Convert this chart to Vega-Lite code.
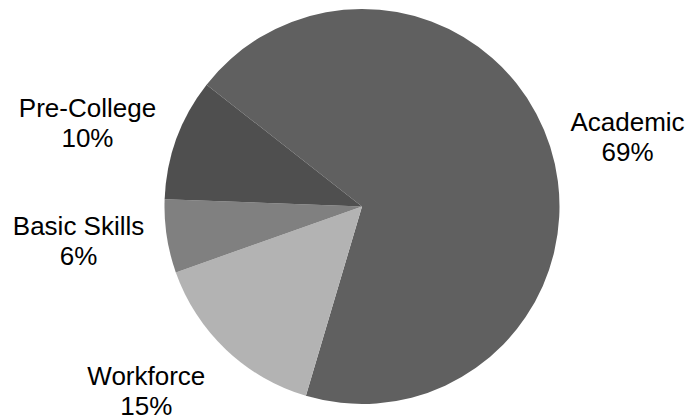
{
  "$schema": "https://vega.github.io/schema/vega-lite/v6.json",
  "width": 656,
  "height": 413,
  "autosize": {"type": "none"},
  "padding": {"left": 34, "top": 0, "right": 0, "bottom": 7},
  "background": "white",
  "data": {
    "values": [
      {"category": "Academic", "percent": 69, "order": 1},
      {"category": "Workforce", "percent": 15, "order": 2},
      {"category": "Basic Skills", "percent": 6, "order": 3},
      {"category": "Pre-College", "percent": 10, "order": 4}
    ]
  },
  "transform": [
    {"calculate": "[datum.category, datum.percent + '%']", "as": "label"}
  ],
  "encoding": {
    "theta": {
      "field": "percent",
      "type": "quantitative",
      "stack": true,
      "scale": {"range": [5.3774, 11.6606]}
    },
    "order": {"field": "order", "type": "quantitative"}
  },
  "layer": [
    {
      "mark": {"type": "arc", "outerRadius": 197.5},
      "encoding": {
        "color": {
          "field": "category",
          "type": "nominal",
          "scale": {
            "domain": ["Academic", "Workforce", "Basic Skills", "Pre-College"],
            "range": ["#606060", "#b3b3b3", "#808080", "#4f4f4f"]
          },
          "legend": null
        }
      }
    },
    {
      "mark": {
        "type": "text",
        "radius": 221,
        "align": "center",
        "dx": 55,
        "dy": -1,
        "baseline": "line-bottom",
        "fontSize": 26,
        "font": "Liberation Sans",
        "lineHeight": 30,
        "color": "black"
      },
      "encoding": {
        "text": {
          "condition": {"test": "datum.category === 'Academic'", "field": "label", "type": "nominal"},
          "value": ""
        }
      }
    },
    {
      "mark": {
        "type": "text",
        "radius": 221,
        "align": "center",
        "dx": -67,
        "dy": -7,
        "baseline": "line-bottom",
        "fontSize": 26,
        "font": "Liberation Sans",
        "lineHeight": 30,
        "color": "black"
      },
      "encoding": {
        "text": {
          "condition": {"test": "datum.category === 'Pre-College'", "field": "label", "type": "nominal"},
          "value": ""
        }
      }
    },
    {
      "mark": {
        "type": "text",
        "radius": 221,
        "align": "center",
        "dx": -65,
        "dy": 2,
        "baseline": "line-bottom",
        "fontSize": 26,
        "font": "Liberation Sans",
        "lineHeight": 30,
        "color": "black"
      },
      "encoding": {
        "text": {
          "condition": {"test": "datum.category === 'Basic Skills'", "field": "label", "type": "nominal"},
          "value": ""
        }
      }
    },
    {
      "mark": {
        "type": "text",
        "radius": 245,
        "align": "center",
        "dx": -47,
        "dy": 8,
        "baseline": "line-bottom",
        "fontSize": 26,
        "font": "Liberation Sans",
        "lineHeight": 30,
        "color": "black"
      },
      "encoding": {
        "text": {
          "condition": {"test": "datum.category === 'Workforce'", "field": "label", "type": "nominal"},
          "value": ""
        }
      }
    }
  ]
}
